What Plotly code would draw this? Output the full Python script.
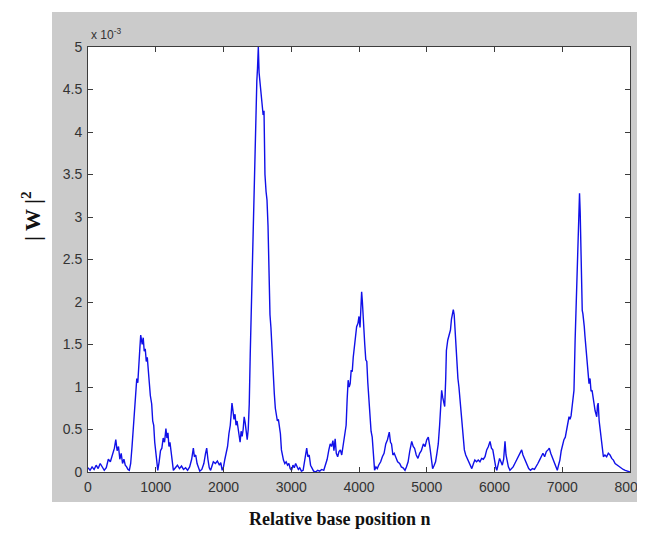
import plotly.graph_objects as go

# Relative base position n
n_pos = [
    0, 30, 60, 90, 120, 150, 180, 210, 240, 270, 300, 330, 360, 390, 410, 430, 450, 470, 490, 510, 530, 550, 570, 590, 610,
    630, 650, 670, 690, 705, 720, 735, 750, 765, 778, 790, 800, 815, 830, 845, 860, 875, 890, 905, 920, 940, 955, 970, 985, 1000, 1015, 1030,
    1050, 1070, 1090, 1110, 1130, 1150, 1165, 1180, 1195, 1210, 1225, 1240, 1260,
    1290, 1320, 1350, 1380, 1410, 1440, 1470, 1500, 1530, 1555, 1570, 1590, 1610, 1630, 1650, 1680, 1710, 1735, 1752, 1770, 1790, 1810, 1830, 1850, 1880, 1910, 1940, 1960, 1980, 2000,
    2020, 2040, 2060, 2080, 2100, 2115, 2125, 2140, 2155, 2170, 2185, 2200, 2215, 2230, 2245, 2260, 2275, 2290, 2305, 2320, 2335, 2350, 2365, 2380,
    2395, 2410, 2425, 2440, 2455, 2465, 2480, 2492, 2502, 2514, 2525, 2540, 2555, 2570, 2585, 2598, 2612, 2628, 2642, 2657, 2670, 2686, 2700, 2718, 2735, 2750, 2765, 2780, 2795, 2810, 2824, 2840, 2855, 2870, 2885,
    2905, 2925, 2945, 2965, 2985, 3005, 3025, 3045, 3065, 3085, 3105, 3125, 3150, 3175, 3195, 3215, 3228, 3245, 3265, 3285, 3305, 3330, 3360, 3390, 3420, 3450, 3480, 3505, 3530, 3555, 3575, 3595, 3615, 3630, 3648, 3665, 3685, 3705, 3725, 3745,
    3770, 3790, 3810, 3825, 3840, 3855, 3870, 3885, 3900, 3915, 3930, 3950, 3965, 3985, 4000, 4015, 4030, 4039, 4050, 4060, 4072, 4085, 4100, 4115, 4130, 4145, 4160, 4178, 4195, 4212, 4230,
    4250, 4270, 4290, 4320, 4345, 4370, 4395, 4420, 4447, 4465, 4480, 4500, 4520, 4545, 4570, 4600, 4625, 4650, 4679, 4700, 4725, 4750, 4778, 4800, 4820, 4845, 4870, 4895, 4920, 4950, 4975, 5000, 5023, 5045, 5065, 5087, 5110, 5130, 5150, 5170, 5190,
    5210, 5220, 5235, 5250, 5265, 5280, 5290, 5310, 5320, 5335, 5350, 5365, 5380, 5392, 5405, 5415, 5430, 5440, 5460, 5475, 5490, 5505, 5520, 5540, 5555, 5575, 5600, 5625, 5645, 5665,
    5690, 5710, 5735, 5760, 5785, 5810, 5835, 5860, 5885, 5910, 5934, 5955, 5975, 6000, 6020, 6034, 6055, 6075, 6095, 6115, 6135, 6155, 6170, 6185, 6205, 6228, 6250, 6275, 6300, 6325, 6350, 6375, 6401, 6420, 6440, 6460, 6480, 6505, 6530, 6560, 6590, 6615, 6640, 6665, 6690, 6715, 6740, 6765, 6790, 6809, 6830, 6850, 6870, 6890, 6910, 6927, 6945, 6965, 6985, 7005, 7025, 7045, 7065, 7085, 7100, 7115, 7130, 7150, 7173,
    7190, 7205, 7220, 7235, 7245, 7255, 7265, 7275, 7285, 7295, 7305, 7315, 7325, 7335, 7350, 7365, 7380, 7395, 7410, 7425, 7440, 7455, 7470, 7485, 7500, 7509, 7520, 7530, 7545, 7560, 7575, 7590, 7607, 7630, 7655, 7680, 7705, 7730, 7755, 7780, 7810, 7840, 7870, 7900, 7930, 7960, 8000,
]

# |W|^2 in units of 1e-3
w2_e3 = [
    0.05, 0.02, 0.06, 0.03, 0.08, 0.04, 0.10, 0.06, 0.02, 0.05, 0.15, 0.12, 0.20, 0.28, 0.38, 0.25, 0.30, 0.15, 0.22, 0.10, 0.15, 0.08, 0.06, 0.03, 0.02,
    0.10, 0.30, 0.55, 0.85, 0.95, 1.10, 1.05, 1.35, 1.45, 1.61, 1.55, 1.50, 1.58, 1.42, 1.45, 1.30, 1.35, 1.15, 1.05, 0.90, 0.80, 0.60, 0.55, 0.35, 0.22, 0.10, 0.02,
    0.12, 0.25, 0.28, 0.40, 0.35, 0.51, 0.40, 0.46, 0.30, 0.35, 0.25, 0.12, 0.02,
    0.05, 0.08, 0.04, 0.07, 0.03, 0.05, 0.02, 0.06, 0.15, 0.28, 0.18, 0.20, 0.10, 0.05, 0.01, 0.03, 0.10, 0.22, 0.28, 0.15, 0.05, 0.02, 0.08, 0.12, 0.10, 0.13, 0.08, 0.11, 0.02, 0.06,
    0.15, 0.22, 0.30, 0.45, 0.55, 0.70, 0.81, 0.72, 0.62, 0.68, 0.55, 0.60, 0.52, 0.40, 0.35, 0.48, 0.42, 0.50, 0.65, 0.58, 0.45, 0.38, 0.50, 0.80,
    1.40, 1.90, 2.40, 3.20, 3.40, 3.70, 4.30, 4.60, 4.75, 5.00, 4.70, 4.55, 4.45, 4.30, 4.20, 4.25, 3.50, 3.30, 3.20, 2.90, 2.40, 1.85, 1.70, 1.35, 1.04, 0.92, 0.75, 0.65, 0.60, 0.62, 0.55, 0.45, 0.26, 0.18, 0.14,
    0.10, 0.12, 0.08, 0.10, 0.04, 0.02, 0.08, 0.05, 0.10, 0.06, 0.03, 0.05, 0.01, 0.02, 0.12, 0.22, 0.28, 0.18, 0.20, 0.08, 0.05, 0.01, 0.00, 0.02, 0.01, 0.03, 0.02, 0.08, 0.15, 0.26, 0.33, 0.30, 0.37, 0.25, 0.39, 0.22, 0.18, 0.24, 0.26, 0.20,
    0.35, 0.45, 0.55, 0.85, 1.08, 1.00, 1.04, 1.20, 1.18, 1.35, 1.47, 1.60, 1.71, 1.75, 1.83, 1.70, 2.00, 2.12, 2.00, 1.80, 1.55, 1.50, 1.32, 1.30, 1.05, 0.90, 0.65, 0.48, 0.41, 0.20, 0.02,
    0.06, 0.04, 0.08, 0.12, 0.18, 0.22, 0.33, 0.38, 0.47, 0.35, 0.33, 0.20, 0.22, 0.18, 0.12, 0.10, 0.06, 0.05, 0.02, 0.06, 0.12, 0.25, 0.36, 0.30, 0.28, 0.20, 0.16, 0.22, 0.25, 0.33, 0.30, 0.38, 0.41, 0.30, 0.18, 0.04, 0.08, 0.12, 0.22, 0.33, 0.55,
    0.90, 0.96, 0.88, 0.82, 0.77, 1.10, 1.43, 1.55, 1.59, 1.62, 1.67, 1.80, 1.85, 1.91, 1.85, 1.71, 1.45, 1.28, 1.10, 1.00, 0.85, 0.70, 0.57, 0.40, 0.26, 0.20, 0.15, 0.10, 0.08, 0.04,
    0.10, 0.14, 0.12, 0.14, 0.12, 0.16, 0.15, 0.18, 0.26, 0.30, 0.36, 0.28, 0.26, 0.12, 0.05, 0.02, 0.10, 0.16, 0.12, 0.08, 0.15, 0.36, 0.20, 0.12, 0.06, 0.02, 0.04, 0.06, 0.10, 0.14, 0.18, 0.22, 0.26, 0.20, 0.16, 0.12, 0.08, 0.04, 0.02, 0.04, 0.03, 0.06, 0.10, 0.14, 0.18, 0.22, 0.18, 0.24, 0.26, 0.28, 0.22, 0.18, 0.12, 0.08, 0.04, 0.02, 0.08, 0.14, 0.25, 0.33, 0.38, 0.41, 0.50, 0.58, 0.65, 0.62, 0.66, 0.80, 0.96,
    1.55, 2.02, 2.40, 2.61, 3.00, 3.28, 3.05, 2.60, 2.20, 1.90, 1.86, 1.80, 1.71, 1.60, 1.45, 1.28, 1.10, 1.04, 1.10, 0.95, 0.96, 0.85, 0.80, 0.72, 0.68, 0.65, 0.78, 0.81, 0.60, 0.50, 0.33, 0.25, 0.18, 0.20, 0.18, 0.22, 0.20, 0.16, 0.14, 0.10, 0.08, 0.06, 0.04, 0.03, 0.02, 0.01, 0.00,
]

x_tick_vals = [0, 1000, 2000, 3000, 4000, 5000, 6000, 7000, 8000]
y_tick_vals = [0, 0.5, 1, 1.5, 2, 2.5, 3, 3.5, 4, 4.5, 5]
y_tick_text = ["0", "0.5", "1", "1.5", "2", "2.5", "3", "3.5", "4", "4.5", "5"]

# The page body adds an 8px offset; compensate so the plot box lands at
# screen x 88..630, y 47..472.
W, H = 645, 536
OFF = 8
PLOT_L, PLOT_R, PLOT_T, PLOT_B = 88, 630, 47, 472
PW, PH = PLOT_R - PLOT_L, PLOT_B - PLOT_T
ML = PLOT_L - OFF
MT = PLOT_T - OFF
MR = W - ML - PW
MB = H - MT - PH


def px_x(p):
    return (p - PLOT_L) / PW


def px_y(p):
    return (PLOT_B - p) / PH


fig = go.Figure()
fig.add_trace(go.Scatter(x=n_pos, y=w2_e3, mode="lines",
                         line=dict(color="#1010e8", width=1.4), showlegend=False))

axis_common = dict(showgrid=False, zeroline=False, showline=True, linecolor="#3c3c3c",
                   linewidth=1, mirror="ticks", ticks="inside", ticklen=5,
                   tickcolor="#3c3c3c", automargin=False, ticklabeloverflow="allow",
                   tickfont=dict(family="Liberation Sans, Arial", size=14, color="#333333"))

fig.update_layout(
    width=W, height=H,
    margin=dict(l=ML, r=MR, t=MT, b=MB, autoexpand=False),
    paper_bgcolor="white", plot_bgcolor="white",
    xaxis=dict(range=[0, 8000], tickvals=x_tick_vals, ticklabelstandoff=2, **axis_common),
    yaxis=dict(range=[0, 5], tickvals=y_tick_vals, ticktext=y_tick_text, ticklabelstandoff=2, **axis_common),
    shapes=[
        dict(type="rect", xref="paper", yref="paper", x0=px_x(52), x1=px_x(640), y0=px_y(502), y1=px_y(12),
             fillcolor="#cbcbcb", line=dict(width=0), layer="below"),
        dict(type="rect", xref="x domain", yref="y domain", x0=0, x1=1, y0=0, y1=1,
             fillcolor="white", line=dict(width=0), layer="below"),
    ],
    annotations=[
        dict(text="x 10<sup>-3</sup>", xref="paper", yref="paper", x=px_x(89), y=px_y(34),
             xanchor="left", yanchor="middle", showarrow=False,
             font=dict(family="Liberation Sans, Arial", size=12, color="#333333")),
        dict(text="<b>Relative base position n</b>", xref="paper", yref="paper", x=px_x(340), y=px_y(519),
             xanchor="center", yanchor="middle", showarrow=False,
             font=dict(family="Liberation Serif, Times New Roman", size=18, color="#111111")),
        dict(text="<b>| W |<sup>2</sup></b>", xref="paper", yref="paper", x=px_x(31), y=px_y(216),
             xanchor="center", yanchor="middle", showarrow=False, textangle=-90,
             font=dict(family="Liberation Serif, Times New Roman", size=22, color="#111111")),
    ],
)

fig.write_html("out.html")
